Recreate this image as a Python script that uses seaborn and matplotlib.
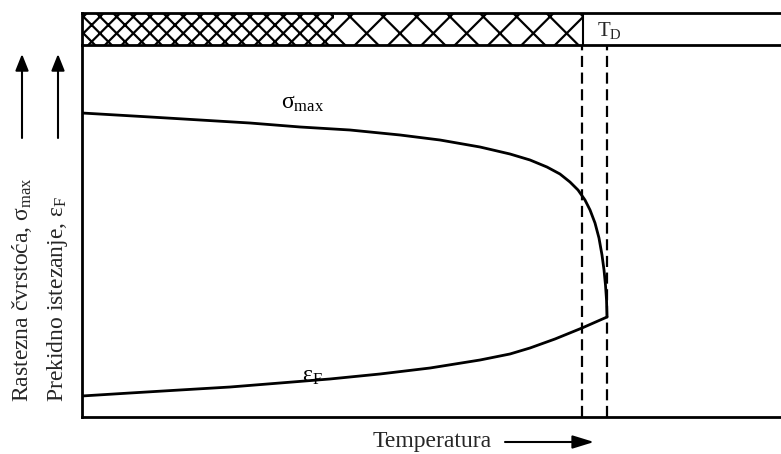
import matplotlib
matplotlib.use("Agg")
import matplotlib.pyplot as plt
import seaborn as sns
import pandas as pd

# ---- data (temperature 0..100, property 0..100) ----
sigma_T = [0, 9.73, 16.88, 24.03, 31.19, 38.34, 45.49, 51.22, 56.94, 61.23, 64.09, 66.52,
           68.38, 69.81, 70.96, 71.96, 72.68, 73.39, 73.96, 74.39, 74.68, 74.89, 75.04, 75.11]
sigma_v = [81.72, 80.65, 79.84, 79.03, 77.96, 77.15, 75.81, 74.46, 72.58, 70.70, 69.09, 67.20,
           65.32, 63.17, 61.02, 58.33, 55.65, 52.15, 48.12, 43.55, 39.52, 35.48, 31.45, 26.88]
eps_T = [0, 6.87, 14.02, 21.17, 28.33, 35.48, 42.63, 49.79, 56.94, 61.23, 64.09, 67.67, 71.53, 75.11]
eps_v = [5.65, 6.45, 7.26, 8.06, 9.14, 10.22, 11.56, 13.17, 15.32, 16.94, 18.55, 20.97, 23.92, 26.88]
dashed_T = [71.5, 75.1]
td_boundary = 71.7
label_sigma = r"$\mathrm{\sigma}_{\mathrm{max}}$"
label_eps = r"$\mathrm{\varepsilon}_{\mathrm{F}}$"
label_td = r"$\mathrm{T_D}$"
ylabel_1 = r"Rastezna čvrstoća, $\mathrm{\sigma}_{\mathrm{max}}$"
ylabel_2 = r"Prekidno istezanje, $\mathrm{\varepsilon}_{\mathrm{F}}$"
xlabel = "Temperatura"

sns.set_theme(style="white")
plt.rcParams["font.family"] = ["Liberation Serif", "DejaVu Serif"]
plt.rcParams["mathtext.fontset"] = "custom"
plt.rcParams["mathtext.rm"] = "Liberation Serif"
plt.rcParams["mathtext.it"] = "Liberation Serif:italic"
plt.rcParams["mathtext.bf"] = "Liberation Serif:bold"
plt.rcParams["hatch.linewidth"] = 1.6

W, H = 781, 454
fig = plt.figure(figsize=(W / 100, H / 100), dpi=100)

def fx(px):
    return px / W

def fy(py):
    return (H - py) / H

ax = fig.add_axes([fx(82), fy(417), 699 / W, 372 / H])
bar = fig.add_axes([fx(82), fy(45), 699 / W, 32 / H])

df_s = pd.DataFrame({"T": sigma_T, "v": sigma_v})
df_e = pd.DataFrame({"T": eps_T, "v": eps_v})
sns.lineplot(data=df_s, x="T", y="v", ax=ax, color="black", lw=2.0, sort=False)
sns.lineplot(data=df_e, x="T", y="v", ax=ax, color="black", lw=2.0, sort=False)
for t in dashed_T:
    ax.axvline(t, color="black", lw=1.6, ls=(0, (5, 2.5)))

ax.set_xlim(0, 100)
ax.set_ylim(0, 100)
ax.set_xticks([])
ax.set_yticks([])
ax.set_xlabel("")
ax.set_ylabel("")
for s in ["top", "right"]:
    ax.spines[s].set_visible(False)
for s in ["left", "bottom"]:
    ax.spines[s].set_color("black")
    ax.spines[s].set_linewidth(2.0)

ax.text(31.5, 84.4, label_sigma, fontsize=17, ha="center", va="center", color="black")
ax.text(33.0, 10.8, label_eps, fontsize=17, ha="center", va="center", color="black")

# top bar
bar.set_xlim(0, 100)
bar.set_ylim(0, 1)
bar.axvspan(0, 36, facecolor="white", edgecolor="black", hatch="xx", lw=0)
bar.axvspan(36, td_boundary, facecolor="white", edgecolor="black", hatch="x", lw=0)
bar.axvline(td_boundary, color="black", lw=1.5)
bar.text(td_boundary + 2.0, 0.45, label_td, fontsize=15, ha="left", va="center")
bar.set_xticks([])
bar.set_yticks([])
bar.spines["right"].set_visible(False)
for s in ["left", "top", "bottom"]:
    bar.spines[s].set_color("black")
    bar.spines[s].set_linewidth(2.0)

# axis labels with arrows
fig.text(fx(22), fy(402), ylabel_1, rotation=90, fontsize=17, ha="center", va="bottom")
fig.text(fx(58), fy(402), ylabel_2, rotation=90, fontsize=17, ha="center", va="bottom")
for xx in [22, 58]:
    fig.add_artist(matplotlib.patches.FancyArrowPatch(
        (fx(xx), fy(138)), (fx(xx), fy(54)), transform=fig.transFigure,
        arrowstyle="-|>,head_length=10,head_width=4", color="black", lw=1.5,
        shrinkA=0, shrinkB=0))
fig.text(fx(432), fy(442), xlabel, fontsize=17, ha="center", va="center")
fig.add_artist(matplotlib.patches.FancyArrowPatch(
    (fx(505), fy(442)), (fx(594), fy(442)), transform=fig.transFigure,
    arrowstyle="-|>,head_length=13,head_width=4", color="black", lw=1.5,
    shrinkA=0, shrinkB=0))

fig.savefig("out.png", dpi=100, facecolor="white")
